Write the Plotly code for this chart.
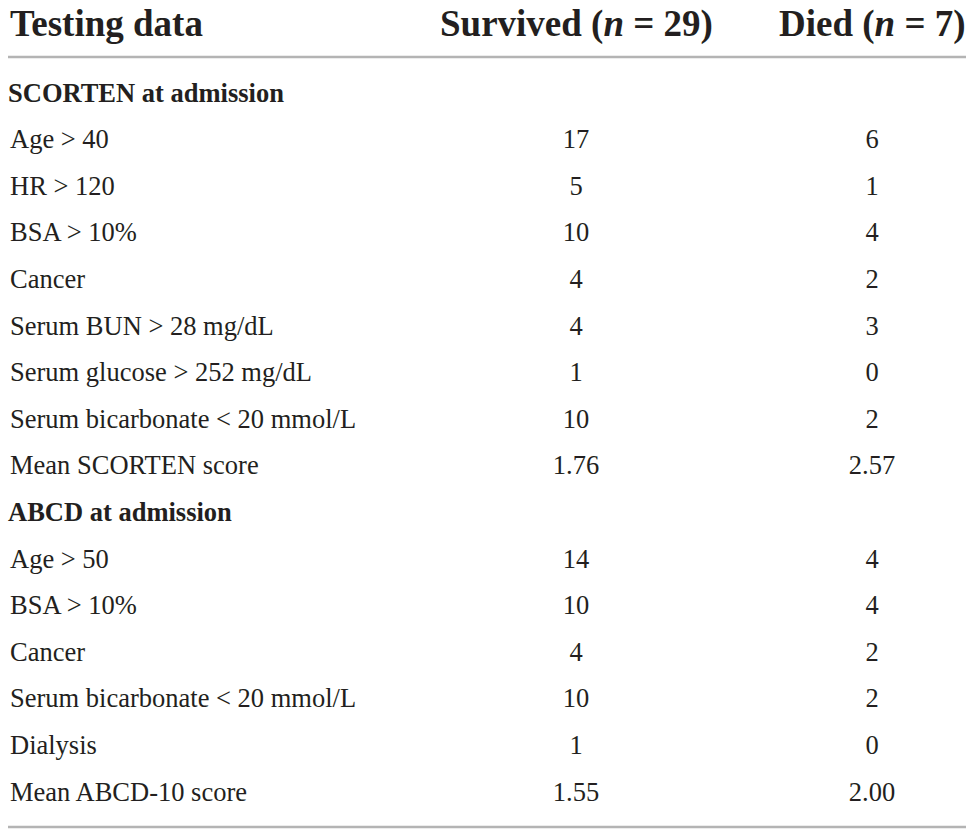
import plotly.graph_objects as go

# ---- data ----
header_labels = ["Testing data", "Survived (<i>n</i> = 29)", "Died (<i>n</i> = 7)"]

section_scorten = "SCORTEN at admission"
scorten_labels = ["Age > 40", "HR > 120", "BSA > 10%", "Cancer",
                  "Serum BUN > 28 mg/dL", "Serum glucose > 252 mg/dL",
                  "Serum bicarbonate < 20 mmol/L", "Mean SCORTEN score"]
scorten_survived = [17, 5, 10, 4, 4, 1, 10, 1.76]
scorten_died = [6, 1, 4, 2, 3, 0, 2, 2.57]

section_abcd = "ABCD at admission"
abcd_labels = ["Age > 50", "BSA > 10%", "Cancer",
               "Serum bicarbonate < 20 mmol/L", "Dialysis", "Mean ABCD-10 score"]
abcd_survived = [14, 10, 4, 10, 1, 1.55]
abcd_died = [4, 4, 2, 2, 0, 2.00]


def fmt(v, is_mean):
    return f"{v:.2f}" if is_mean else str(int(v))


# build rows
rows = []  # (label, survived, died, is_section)
rows.append((section_scorten, "", "", True))
for i, lab in enumerate(scorten_labels):
    m = lab.startswith("Mean")
    rows.append((lab, fmt(scorten_survived[i], m), fmt(scorten_died[i], m), False))
rows.append((section_abcd, "", "", True))
for i, lab in enumerate(abcd_labels):
    m = lab.startswith("Mean")
    rows.append((lab, fmt(abcd_survived[i], m), fmt(abcd_died[i], m), False))

row_idx = list(range(len(rows)))

# body margin is removed by post_script, so the figure fills the window
W, H = 972, 833
FONT = "Liberation Serif"
TXT = "#231f20"
BODY = 26.5
HEAD = 37


def px(xp):
    return xp / W


def py(yp):
    return 1 - yp / H


# row geometry (window pixels)
ROW0_PX = 95.0
ROW_STEP = 46.6
y_top = -ROW0_PX / ROW_STEP
y_bot = (H - ROW0_PX) / ROW_STEP

fig = go.Figure()

body_i = [i for i in row_idx if not rows[i][3]]
sec_i = [i for i in row_idx if rows[i][3]]

fig.add_trace(go.Scatter(
    x=[px(10)] * len(body_i), y=body_i,
    text=[rows[i][0].replace("<", "&lt;") for i in body_i],
    mode="text", textposition="middle right",
    textfont=dict(family=FONT, size=BODY, color=TXT), hoverinfo="skip",
    cliponaxis=False))
fig.add_trace(go.Scatter(
    x=[px(8)] * len(sec_i), y=sec_i,
    text=["<b>" + rows[i][0] + "</b>" for i in sec_i],
    mode="text", textposition="middle right",
    textfont=dict(family=FONT, size=BODY, color=TXT), hoverinfo="skip",
    cliponaxis=False))
fig.add_trace(go.Scatter(
    x=[px(576)] * len(body_i), y=body_i,
    text=[rows[i][1] for i in body_i],
    mode="text", textposition="middle center",
    textfont=dict(family=FONT, size=BODY, color=TXT), hoverinfo="skip"))
fig.add_trace(go.Scatter(
    x=[px(872)] * len(body_i), y=body_i,
    text=[rows[i][2] for i in body_i],
    mode="text", textposition="middle center",
    textfont=dict(family=FONT, size=BODY, color=TXT), hoverinfo="skip"))

# header
HEAD_Y = py(24)
fig.add_annotation(x=px(8), y=HEAD_Y, xref="paper", yref="paper",
                   text="<b>" + header_labels[0] + "</b>", showarrow=False,
                   xanchor="left", yanchor="middle",
                   font=dict(family=FONT, size=HEAD, color=TXT))
fig.add_annotation(x=px(576), y=HEAD_Y, xref="paper", yref="paper",
                   text="<b>" + header_labels[1] + "</b>", showarrow=False,
                   xanchor="center", yanchor="middle",
                   font=dict(family=FONT, size=HEAD, color=TXT))
fig.add_annotation(x=px(872), y=HEAD_Y, xref="paper", yref="paper",
                   text="<b>" + header_labels[2] + "</b>", showarrow=False,
                   xanchor="center", yanchor="middle",
                   font=dict(family=FONT, size=HEAD, color=TXT))

# rules
for ypx in (57, 827):
    fig.add_shape(type="line", xref="paper", yref="paper",
                  x0=px(8), x1=px(966), y0=py(ypx), y1=py(ypx),
                  line=dict(color="#b4b4b4", width=2.5))

fig.update_layout(
    width=W, height=H,
    margin=dict(l=0, r=0, t=0, b=0),
    paper_bgcolor="white", plot_bgcolor="white",
    showlegend=False,
    hovermode=False,
    xaxis=dict(range=[0, 1], visible=False, fixedrange=True),
    yaxis=dict(range=[y_bot, y_top], visible=False, fixedrange=True),
)

fig.write_html(
    "out.html",
    config={"displayModeBar": False, "staticPlot": True},
    post_script="document.body.style.margin='0';document.body.style.overflow='hidden';",
)
